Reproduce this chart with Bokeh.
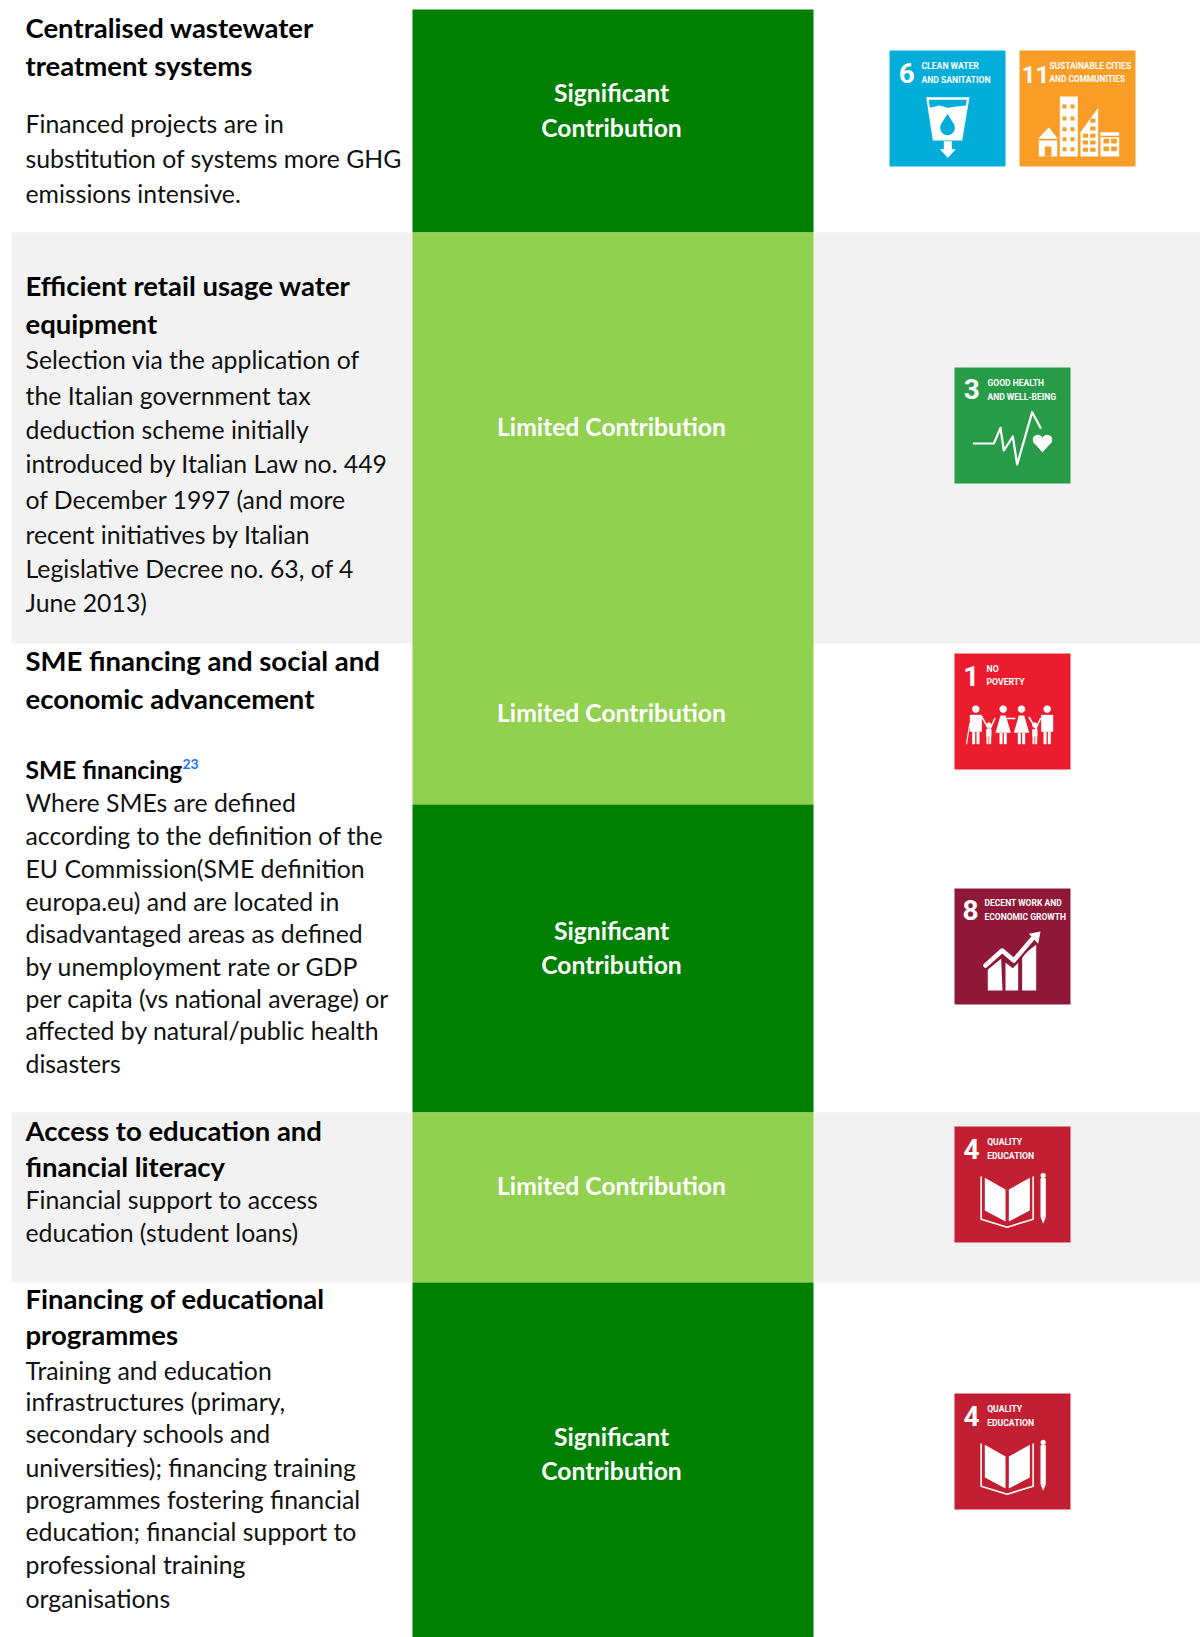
import math
from bokeh.plotting import figure
from bokeh.models import Range1d
from bokeh.core.properties import value
from bokeh.embed import file_html
from bokeh.resources import INLINE

# ---------- table content ----------
row_edges = [9, 232, 643, 804, 1112, 1282, 1637]
row_shaded = [False, True, False, False, True, False]
contribution = ["Significant|Contribution", "Limited Contribution", "Limited Contribution",
                "Significant|Contribution", "Limited Contribution", "Significant|Contribution"]
contribution_kind = ["sig", "lim", "lim", "sig", "lim", "sig"]
contribution_base = [[101, 136], [435], [721], [939, 973], [1194], [1445, 1479]]

bold_lines = ["Centralised wastewater", "treatment systems", "Efficient retail usage water", "equipment",
              "SME financing and social and", "economic advancement",
              "Access to education and", "financial literacy", "Financing of educational", "programmes"]
bold_base = [37, 75, 295, 333, 670, 708, 1140, 1176, 1308, 1344]

sub_heading = ["SME financing"]
sub_heading_base = [778]
footnote_mark = ["23"]

body_lines = ["Financed projects are in", "substitution of systems more GHG", "emissions intensive.",
              "Selection via the application of", "the Italian government tax", "deduction scheme initially",
              "introduced by Italian Law no. 449", "of December 1997 (and more", "recent initiatives by Italian",
              "Legislative Decree no. 63, of 4", "June 2013)",
              "Where SMEs are defined", "according to the definition of the", "EU Commission(SME definition",
              "europa.eu) and are located in", "disadvantaged areas as defined", "by unemployment rate or GDP",
              "per capita (vs national average) or", "affected by natural/public health", "disasters",
              "Financial support to access", "education (student loans)",
              "Training and education", "infrastructures (primary,", "secondary schools and",
              "universities); financing training", "programmes fostering financial",
              "education; financial support to", "professional training", "organisations"]
body_base = [132, 167, 202, 368, 404, 438, 472, 508, 543, 577, 611,
             811, 844, 877, 910, 942, 975, 1007, 1039, 1072,
             1208, 1241, 1379, 1410, 1442, 1476, 1508, 1540, 1573, 1607]

FONT = "Lato"
NARROW = "Roboto"
GREY, DARK, LIGHT = "#F2F2F2", "#008000", "#92D050"
COL = [11, 412, 813, 1200]
K = 0.38  # renderer's baseline offset, as a share of the font size

p = figure(width=1200, height=1637, x_range=Range1d(0, 1200), y_range=Range1d(1637, 0),
           x_axis_type=None, y_axis_type=None, toolbar_location=None, output_backend="svg",
           min_border=0, outline_line_color=None, background_fill_color="white",
           border_fill_color="white")
p.grid.visible = False


def rect(x0, y0, x1, y1, c):
    p.patch([x0, x1, x1, x0], [y0, y0, y1, y1], fill_color=c, line_color=None)


def label(xs, ys, texts, size, color="white", bold=False, align="left", font=FONT):
    p.text(xs, [y - K * size for y in ys], text=texts, text_color=color, text_font=value(font),
           text_font_size=f"{size}px", text_font_style="bold" if bold else "normal",
           text_align=align, text_baseline="alphabetic")


for i in range(6):
    t, b = row_edges[i], row_edges[i + 1]
    if row_shaded[i]:
        rect(COL[0], t, COL[1], b, GREY)
        rect(COL[2], t, COL[3], b, GREY)
    same_next = i < 5 and contribution_kind[i + 1] == contribution_kind[i]
    rect(COL[1], t, COL[2], b + (1 if same_next else 0), DARK if contribution_kind[i] == "sig" else LIGHT)
    for txt, y in zip(contribution[i].split("|"), contribution_base[i]):
        label([611], [y], [txt], 24.7, bold=True, align="center")

label([25] * len(bold_lines), bold_base, bold_lines, 27.5, "#000000", True)
label([25] * len(sub_heading), sub_heading_base, sub_heading, 24.6, "#000000", True)
label([25] * len(body_lines), body_base, body_lines, 24.8, "#111111")
label([182], [769], footnote_mark, 14, "#1A75FF", True)


# ---------- SDG tiles: shapes in 348-unit tile coordinates ----------
class Tile:
    def __init__(self, x, y, color, num, labels, num_x, num_base, lab_x, lab_base, lab_size=8.5, num_size=28):
        self.x, self.y, self.c = x, y, color
        rect(x, y, x + 116, y + 116, color)
        label([self.X(num_x)], [self.Y(num_base)], [num], num_size, bold=True, align="center", font=NARROW)
        for t, b in zip(labels, lab_base):
            label([self.X(lab_x)], [self.Y(b - 2)], [t], lab_size, bold=True, font=NARROW)

    def X(self, u):
        return self.x + u / 3

    def Y(self, u):
        return self.y + u / 3

    def poly(self, pts, c="white"):
        p.patch([self.X(a) for a, _ in pts], [self.Y(b) for _, b in pts], fill_color=c, line_color=None)

    def box(self, a, b, c_, d, c="white"):
        self.poly([(a, b), (c_, b), (c_, d), (a, d)], c)

    def disc(self, cx, cy, r, c="white"):
        pts = [(cx + r * math.cos(k * math.pi / 12), cy + r * math.sin(k * math.pi / 12)) for k in range(24)]
        self.poly(pts, c)

    def line(self, pts, w, c="white"):
        p.line([self.X(a) for a, _ in pts], [self.Y(b) for _, b in pts], line_color=c, line_width=w,
               line_join="round", line_cap="round")


# Goal 6
t = Tile(889, 50, "#02ADD9", "6", ["CLEAN WATER", "AND SANITATION"], 52, 100, 96, [58, 100], 8.6)
t.poly([(110, 140), (240, 140), (218, 270), (130, 270)])
t.poly([(118, 148), (232, 148), (229, 165), (200, 168), (175, 172), (150, 165), (121, 172)], t.c)
t.disc(174, 232, 22, t.c)
t.poly([(174, 190), (153, 224), (195, 224)], t.c)
t.box(163, 272, 187, 298)
t.poly([(151, 296), (199, 296), (175, 322)])

# Goal 11
t = Tile(1019, 50, "#F99D26", "11", ["SUSTAINABLE CITIES", "AND COMMUNITIES"], 48, 98, 90, [58, 98], 8.3, 24)
t.poly([(56, 265), (88, 230), (115, 265)])
t.box(58, 270, 113, 318)
t.box(76, 288, 96, 318, t.c)
t.box(121, 138, 175, 318)
for wy in [162, 198, 230, 260, 290]:
    t.box(129, wy, 141, wy + 12, t.c)
    t.box(153, wy, 165, wy + 12, t.c)
t.poly([(183, 318), (183, 245), (236, 172), (236, 318)])
for wy in [250, 270, 292]:
    t.box(190, wy, 206, wy + 12, t.c)
    t.box(212, wy, 228, wy + 12, t.c)
for wy in [205, 228]:
    t.box(212, wy, 228, wy + 12, t.c)
t.box(243, 245, 299, 318)
t.box(243, 256, 299, 260, t.c)
for wy in [265, 288]:
    t.box(252, wy, 269, wy + 14, t.c)
    t.box(275, wy, 292, wy + 14, t.c)

# Goal 3
t = Tile(954, 367, "#279B48", "3", ["GOOD HEALTH", "AND WELL-BEING"], 52, 97, 99, [57, 99], 8.5)
t.line([(58, 228), (118, 228), (138, 181), (148, 249), (175, 207), (188, 291), (233, 134), (258, 181)], 2.2)
t.disc(250, 217, 15)
t.disc(278, 217, 15)
t.poly([(235, 222), (293, 222), (264, 255)])

# Goal 1
t = Tile(954, 653, "#EB1C2D", "1", ["NO", "POVERTY"], 50, 99, 96, [58, 98], 8.7)


def adult(cx, dress):
    x = cx - 72
    t.disc(x, 167, 11)
    if dress:
        t.poly([(x - 8, 186), (x + 8, 186), (x + 23, 238), (x - 23, 238)])
        t.box(x - 11, 238, x - 2, 272)
        t.box(x + 2, 238, x + 11, 272)
    else:
        t.box(x - 18, 184, x + 18, 235)
        t.box(x - 11, 235, x - 2, 272)
        t.box(x + 2, 235, x + 11, 272)


def child(cx):
    x = cx - 72
    t.disc(x, 215, 8)
    t.box(x - 8, 227, x + 8, 250)
    t.box(x - 7, 250, x - 1, 272)
    t.box(x + 1, 250, x + 7, 272)


adult(136, False)
adult(218, True)
adult(273, True)
adult(350, False)
child(175)
child(313)
t.line([(46, 210), (36, 271)], 1.2)
t.line([(82, 190), (103, 228)], 1.5)
t.line([(121, 195), (106, 228)], 1.5)
t.line([(160, 195), (181, 195)], 1.5)
t.line([(224, 192), (246, 228)], 1.5)
t.line([(258, 195), (243, 228)], 1.5)

# Goal 8
t = Tile(954, 888, "#8F1838", "8", ["DECENT WORK AND", "ECONOMIC GROWTH"], 48, 96, 90, [55, 98], 8.5)
t.poly([(100, 306), (100, 243), (140, 211), (144, 306)])
t.poly([(153, 306), (153, 223), (175, 239), (191, 223), (191, 306)])
t.poly([(203, 306), (203, 201), (245, 169), (245, 306)])
t.line([(93, 231), (143, 186), (178, 216), (233, 151)], 9, t.c)
t.line([(93, 231), (143, 186), (178, 216), (233, 151)], 4.5)
t.poly([(258, 129), (223, 136), (251, 166)])

# Goal 4 (twice)
for ty, tc in [(1126, "#C31F33"), (1393, "#C31F33")]:
    t = Tile(954, ty, tc, "4", ["QUALITY", "EDUCATION"], 51, 99, 98, [57, 99], 8.6)
    t.poly([(91, 154), (153, 189), (153, 285), (91, 252)])
    t.poly([(163, 189), (226, 154), (226, 252), (163, 285)])
    t.line([(80, 152), (80, 278), (158, 302), (236, 278), (236, 152)], 1.6)
    t.box(258, 155, 274, 272)
    t.poly([(258, 272), (274, 272), (266, 292)])
    t.disc(266, 147, 8)

open("out.html", "w").write(file_html(p, INLINE))
